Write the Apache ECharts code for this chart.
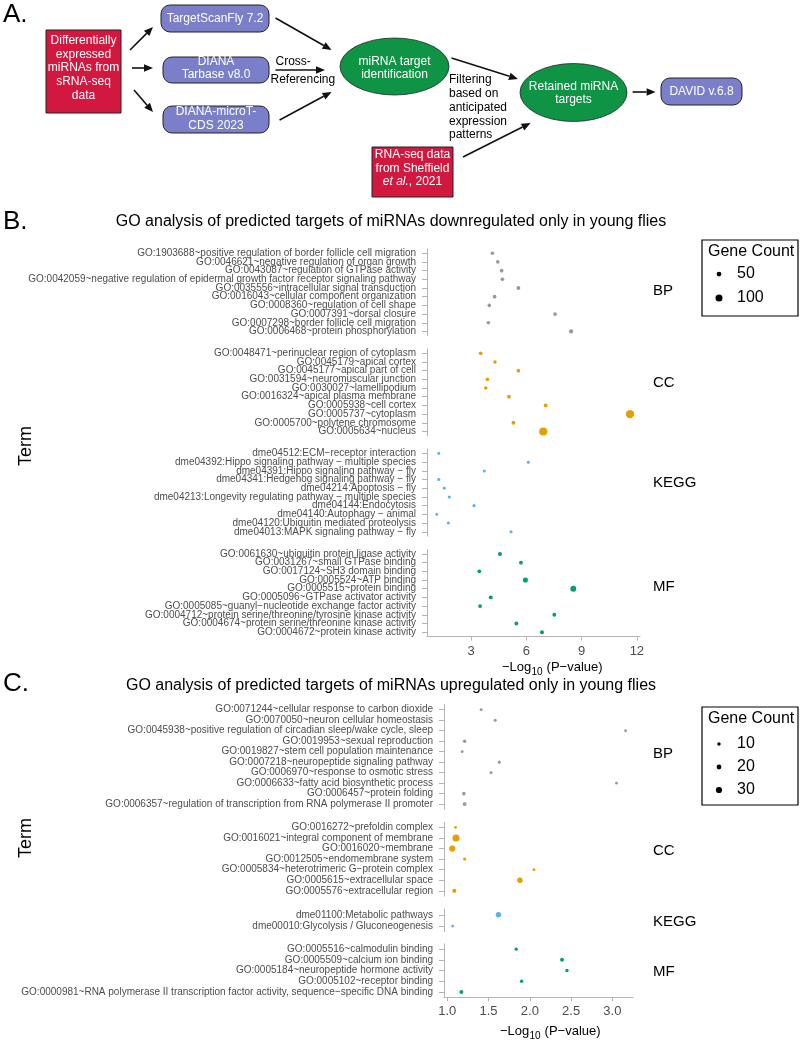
<!DOCTYPE html>
<html lang="en">
<head>
<meta charset="UTF-8">
<title>GO analysis of predicted miRNA targets</title>
<script src="https://cdn.jsdelivr.net/npm/echarts@6.0.0/dist/echarts.min.js"></script>
<style>
  html, body { margin: 0; padding: 0; background: #fff; }
  #chart { width: 800px; height: 1043px; }
</style>
</head>
<body>
<div id="chart"></div>
<script>
// ---------- panel B : miRNAs downregulated only in young flies ----------
var bBpTerms = [
  'GO:1903688~positive regulation of border follicle cell migration',
  'GO:0046621~negative regulation of organ growth',
  'GO:0043087~regulation of GTPase activity',
  'GO:0042059~negative regulation of epidermal growth factor receptor signaling pathway',
  'GO:0035556~intracellular signal transduction',
  'GO:0016043~cellular component organization',
  'GO:0008360~regulation of cell shape',
  'GO:0007391~dorsal closure',
  'GO:0007298~border follicle cell migration',
  'GO:0006468~protein phosphorylation'
];
var bBpLogP = [4.16, 4.45, 4.66, 4.70, 5.57, 4.28, 3.99, 7.56, 3.94, 8.43];
var bBpCount = [24, 25, 27, 26, 30, 28, 25, 27, 25, 38];

var bCcTerms = [
  'GO:0048471~perinuclear region of cytoplasm',
  'GO:0045179~apical cortex',
  'GO:0045177~apical part of cell',
  'GO:0031594~neuromuscular junction',
  'GO:0030027~lamellipodium',
  'GO:0016324~apical plasma membrane',
  'GO:0005938~cell cortex',
  'GO:0005737~cytoplasm',
  'GO:0005700~polytene chromosome',
  'GO:0005634~nucleus'
];
var bCcLogP = [3.52, 4.30, 5.57, 3.89, 3.80, 5.06, 7.05, 11.63, 5.30, 6.92];
var bCcCount = [27, 22, 26, 25, 22, 28, 30, 130, 30, 125];

var bKeggTerms = [
  'dme04512:ECM\u2212receptor interaction',
  'dme04392:Hippo signaling pathway \u2212 multiple species',
  'dme04391:Hippo signaling pathway \u2212 fly',
  'dme04341:Hedgehog signaling pathway \u2212 fly',
  'dme04214:Apoptosis \u2212 fly',
  'dme04213:Longevity regulating pathway \u2212 multiple species',
  'dme04144:Endocytosis',
  'dme04140:Autophagy \u2212 animal',
  'dme04120:Ubiquitin mediated proteolysis',
  'dme04013:MAPK signaling pathway \u2212 fly'
];
var bKeggLogP = [1.25, 6.11, 3.72, 1.25, 1.55, 1.82, 3.16, 1.14, 1.77, 5.17];
var bKeggCount = [10, 13, 12, 11, 10, 12, 14, 10, 13, 14];

var bMfTerms = [
  'GO:0061630~ubiquitin protein ligase activity',
  'GO:0031267~small GTPase binding',
  'GO:0017124~SH3 domain binding',
  'GO:0005524~ATP binding',
  'GO:0005515~protein binding',
  'GO:0005096~GTPase activator activity',
  'GO:0005085~guanyl\u2212nucleotide exchange factor activity',
  'GO:0004712~protein serine/threonine/tyrosine kinase activity',
  'GO:0004674~protein serine/threonine kinase activity',
  'GO:0004672~protein kinase activity'
];
var bMfLogP = [4.57, 5.71, 3.45, 5.95, 8.55, 4.07, 3.49, 7.52, 5.46, 6.85];
var bMfCount = [34, 30, 28, 58, 75, 32, 28, 30, 30, 34];

var bTicks = [3, 6, 9, 12];
var bLegend = [50, 100];

// ---------- panel C : miRNAs upregulated only in young flies ----------
var cBpTerms = [
  'GO:0071244~cellular response to carbon dioxide',
  'GO:0070050~neuron cellular homeostasis',
  'GO:0045938~positive regulation of circadian sleep/wake cycle, sleep',
  'GO:0019953~sexual reproduction',
  'GO:0019827~stem cell population maintenance',
  'GO:0007218~neuropeptide signaling pathway',
  'GO:0006970~response to osmotic stress',
  'GO:0006633~fatty acid biosynthetic process',
  'GO:0006457~protein folding',
  'GO:0006357~regulation of transcription from RNA polymerase II promoter'
];
var cBpLogP = [1.41, 1.58, 3.16, 1.21, 1.18, 1.63, 1.53, 3.05, 1.20, 1.21];
var cBpCount = [7, 8, 6, 10, 6, 8, 7, 6, 11, 14];

var cCcTerms = [
  'GO:0016272~prefoldin complex',
  'GO:0016021~integral component of membrane',
  'GO:0016020~membrane',
  'GO:0012505~endomembrane system',
  'GO:0005834~heterotrimeric G\u2212protein complex',
  'GO:0005615~extracellular space',
  'GO:0005576~extracellular region'
];
var cCcLogP = [1.10, 1.105, 1.06, 1.21, 2.05, 1.88, 1.085];
var cCcCount = [6, 36, 30, 9, 7, 24, 15];

var cKeggTerms = [
  'dme01100:Metabolic pathways',
  'dme00010:Glycolysis / Gluconeogenesis'
];
var cKeggLogP = [1.62, 1.065];
var cKeggCount = [24, 6];

var cMfTerms = [
  'GO:0005516~calmodulin binding',
  'GO:0005509~calcium ion binding',
  'GO:0005184~neuropeptide hormone activity',
  'GO:0005102~receptor binding',
  'GO:0000981~RNA polymerase II transcription factor activity, sequence\u2212specific DNA binding'
];
var cMfLogP = [1.835, 2.39, 2.45, 1.90, 1.17];
var cMfCount = [9, 14, 10, 10, 14];

var cTicks = [1.0, 1.5, 2.0, 2.5, 3.0];
var cLegend = [10, 20, 30];

// ---------- styling ----------
var FONT = 'Liberation Sans, Arial, Helvetica, sans-serif';
var AXIS_GREY = '#b3b3b3';
var TEXT_GREY = '#4d4d4d';
var COLORS = { BP: '#999999', CC: '#E69F00', KEGG: '#56B4E9', MF: '#009E73' };

// point diameter from gene count (one scale per panel)
function sizeB(n) { return 2.5 + 0.045 * n; }
function sizeC(n) { return 2 + 0.14 * n; }

var panels = [
  {
    left: 427, width: 213, step: 8.52, min: 0.61, max: 12.17, ticks: bTicks, size: sizeB,
    fmt: function (v) { return String(v); },
    facets: [
      { key: 'BP', terms: bBpTerms, logp: bBpLogP, count: bBpCount, top: 248.9, labelY: 291 },
      { key: 'CC', terms: bCcTerms, logp: bCcLogP, count: bCcCount, top: 348.9, labelY: 383 },
      { key: 'KEGG', terms: bKeggTerms, logp: bKeggLogP, count: bKeggCount, top: 449.2, labelY: 483 },
      { key: 'MF', terms: bMfTerms, logp: bMfLogP, count: bMfCount, top: 549.6, labelY: 587 }
    ]
  },
  {
    left: 444, width: 189, step: 10.28, min: 0.96, max: 3.25, ticks: cTicks, size: sizeC,
    fmt: function (v) { return v.toFixed(1); },
    facets: [
      { key: 'BP', terms: cBpTerms, logp: cBpLogP, count: cBpCount, top: 704.5, labelY: 754 },
      { key: 'CC', terms: cCcTerms, logp: cCcLogP, count: cCcCount, top: 822.1, labelY: 851 },
      { key: 'KEGG', terms: cKeggTerms, logp: cKeggLogP, count: cKeggCount, top: 909.1, labelY: 922 },
      { key: 'MF', terms: cMfTerms, logp: cMfLogP, count: cMfCount, top: 943.8, labelY: 972 }
    ]
  }
];

var grids = [], xAxes = [], yAxes = [], series = [], graphics = [];

function txt(x, y, text, size, opts) {
  opts = opts || {};
  return {
    type: 'text', x: x, y: y, rotation: opts.rotation || 0, silent: true,
    style: {
      text: text, fill: opts.fill || '#000', fontSize: size, fontFamily: FONT,
      fontStyle: opts.italic ? 'italic' : 'normal',
      align: opts.align || 'left', textAlign: opts.align || 'left',
      verticalAlign: 'middle', textVerticalAlign: 'middle',
      lineHeight: opts.lineHeight || size * 1.2,
      rich: opts.rich
    }
  };
}

panels.forEach(function (p) {
  p.facets.forEach(function (f, fi) {
    var gi = grids.length;
    var last = fi === p.facets.length - 1;
    grids.push({ left: p.left, width: p.width, top: f.top, height: (f.terms.length + 0.2) * p.step });
    xAxes.push({
      type: 'value', gridIndex: gi, min: p.min, max: p.max, show: last,
      splitLine: { show: false },
      axisLine: { show: true, onZero: false, lineStyle: { color: AXIS_GREY, width: 1 } },
      axisTick: { show: true, length: 4, customValues: p.ticks, lineStyle: { color: AXIS_GREY } },
      axisLabel: {
        show: true, customValues: p.ticks, formatter: p.fmt, margin: 8,
        fontSize: 13, color: TEXT_GREY, fontFamily: FONT
      }
    });
    yAxes.push({
      type: 'category', gridIndex: gi, data: f.terms, inverse: true,
      splitLine: { show: false },
      axisLine: { show: true, lineStyle: { color: AXIS_GREY, width: 1 } },
      axisTick: { show: true, length: 5, alignWithLabel: true, interval: 0, lineStyle: { color: AXIS_GREY } },
      axisLabel: { interval: 0, margin: 11, fontSize: 10, color: TEXT_GREY, fontFamily: FONT }
    });
    series.push({
      type: 'scatter', xAxisIndex: gi, yAxisIndex: gi, silent: true,
      data: f.terms.map(function (t, j) { return [f.logp[j], t, f.count[j]]; }),
      symbolSize: function (v) { return p.size(v[2]); },
      itemStyle: { color: COLORS[f.key], opacity: 1 }
    });
    graphics.push(txt(653, f.labelY, f.key, 15));
  });
});

// ---------- titles, axis names, legends ----------
graphics.push(txt(3, 15, 'A.', 26));
graphics.push(txt(3, 222, 'B.', 26));
graphics.push(txt(3, 684, 'C.', 26));
graphics.push(txt(391, 222, 'GO analysis of predicted targets of miRNAs downregulated only in young flies', 16, { align: 'center' }));
graphics.push(txt(391, 686, 'GO analysis of predicted targets of miRNAs upregulated only in young flies', 16, { align: 'center' }));
graphics.push(txt(26, 446, 'Term', 18, { align: 'center', rotation: Math.PI / 2 }));
graphics.push(txt(26, 838, 'Term', 18, { align: 'center', rotation: Math.PI / 2 }));

function logTitle(x, y) {
  graphics.push(txt(x, y, '\u2212Log', 13));
  graphics.push(txt(x + 29.5, y + 5, '10', 10));
  graphics.push(txt(x + 41, y, ' (P\u2212value)', 13));
}
logTitle(502, 667);
logTitle(500, 1031);

function sizeLegend(x, y, h, values, sizeFn, rowY) {
  graphics.push({
    type: 'rect', silent: true, shape: { x: x, y: y, width: 96, height: h },
    style: { fill: '#fff', stroke: '#000', lineWidth: 1.2 }
  });
  graphics.push(txt(x + 6, y + 12, 'Gene Count', 16));
  values.forEach(function (v, i) {
    graphics.push({
      type: 'circle', silent: true,
      shape: { cx: x + 17, cy: rowY[i], r: sizeFn(v) / 2 },
      style: { fill: '#000' }
    });
    graphics.push(txt(x + 35, rowY[i], String(v), 16));
  });
}
sizeLegend(702, 240, 76, bLegend, sizeB, [274, 298]);
sizeLegend(702, 707, 98, cLegend, sizeC, [744, 767, 790]);

// ---------- panel A : workflow diagram ----------
var RED = '#d3183f', PURPLE = '#7b7fca', GREEN = '#0f9446', EDGE = '#222';

function box(x, y, w, h, fill, r, label, cx, cy, rich) {
  graphics.push({
    type: 'rect', silent: true, shape: { x: x, y: y, width: w, height: h, r: r },
    style: { fill: fill, stroke: EDGE, lineWidth: 1 }
  });
  graphics.push(txt(cx, cy, label, 12, { align: 'center', fill: '#fff', lineHeight: 13.6, rich: rich }));
}
function oval(cx, cy, rx, ry, label, ty) {
  graphics.push({
    type: 'circle', silent: true, x: cx, y: cy, scaleY: ry / rx,
    shape: { cx: 0, cy: 0, r: rx },
    style: { fill: GREEN, stroke: EDGE, lineWidth: 1, strokeNoScale: true }
  });
  graphics.push(txt(cx, ty, label, 12, { align: 'center', fill: '#fff', lineHeight: 13.5 }));
}
function arrow(x1, y1, x2, y2) {
  var a = Math.atan2(y2 - y1, x2 - x1), hl = 9, hw = 3.8;
  var bx = x2 - hl * Math.cos(a), by = y2 - hl * Math.sin(a);
  var px = -Math.sin(a), py = Math.cos(a);
  graphics.push({ type: 'line', silent: true, shape: { x1: x1, y1: y1, x2: bx, y2: by }, style: { stroke: '#111', lineWidth: 1.6 } });
  graphics.push({
    type: 'polygon', silent: true,
    shape: { points: [[x2, y2], [bx + px * hw, by + py * hw], [bx - px * hw, by - py * hw]] },
    style: { fill: '#111' }
  });
}

box(46, 30, 75, 83, RED, 0, 'Differentially\nexpressed\nmiRNAs from\nsRNA-seq\ndata', 83.5, 68);
box(161, 5, 108, 27, PURPLE, 9, 'TargetScanFly 7.2', 215, 18.5);
box(163, 57, 106, 26, PURPLE, 9, 'DIANA\nTarbase v8.0', 216, 68);
box(163, 106, 106, 27, PURPLE, 9, 'DIANA-microT-\nCDS 2023', 216, 118.5);
box(661, 78, 81, 27, PURPLE, 9, 'DAVID v.6.8', 701.5, 91.5);
box(372, 147, 81, 50, RED, 0, 'RNA-seq data\nfrom Sheffield\n{i|et al.}, 2021', 412.5, 168.5,
  { i: { fontStyle: 'italic', fontSize: 12, fontFamily: FONT, fill: '#fff', lineHeight: 13.6 } });
oval(394.5, 66.5, 54.5, 28.5, 'miRNA target\nidentification', 68);
oval(573.5, 92.5, 53.5, 29, 'Retained miRNA\ntargets', 93);

graphics.push(txt(275.5, 62, 'Cross-', 12));
graphics.push(txt(270.5, 80, 'Referencing', 12));
graphics.push(txt(449, 107.5, 'Filtering\nbased on\nanticipated\nexpression\npatterns', 12, { lineHeight: 13.75 }));

arrow(130, 50, 153, 27);
arrow(132, 68, 153, 68);
arrow(134, 90, 153, 112);
arrow(275.5, 18, 331.6, 50);
arrow(275.5, 70, 325, 70);
arrow(279.6, 120, 331.6, 92);
arrow(451.5, 58, 518, 79);
arrow(463, 157, 530.6, 123);
arrow(632.6, 92, 655.6, 92);

var chart = echarts.init(document.getElementById('chart'), null, { renderer: 'canvas' });
chart.setOption({
  animation: false,
  backgroundColor: '#fff',
  textStyle: { fontFamily: FONT },
  grid: grids,
  xAxis: xAxes,
  yAxis: yAxes,
  series: series,
  graphic: { elements: graphics }
});
</script>
</body>
</html>
